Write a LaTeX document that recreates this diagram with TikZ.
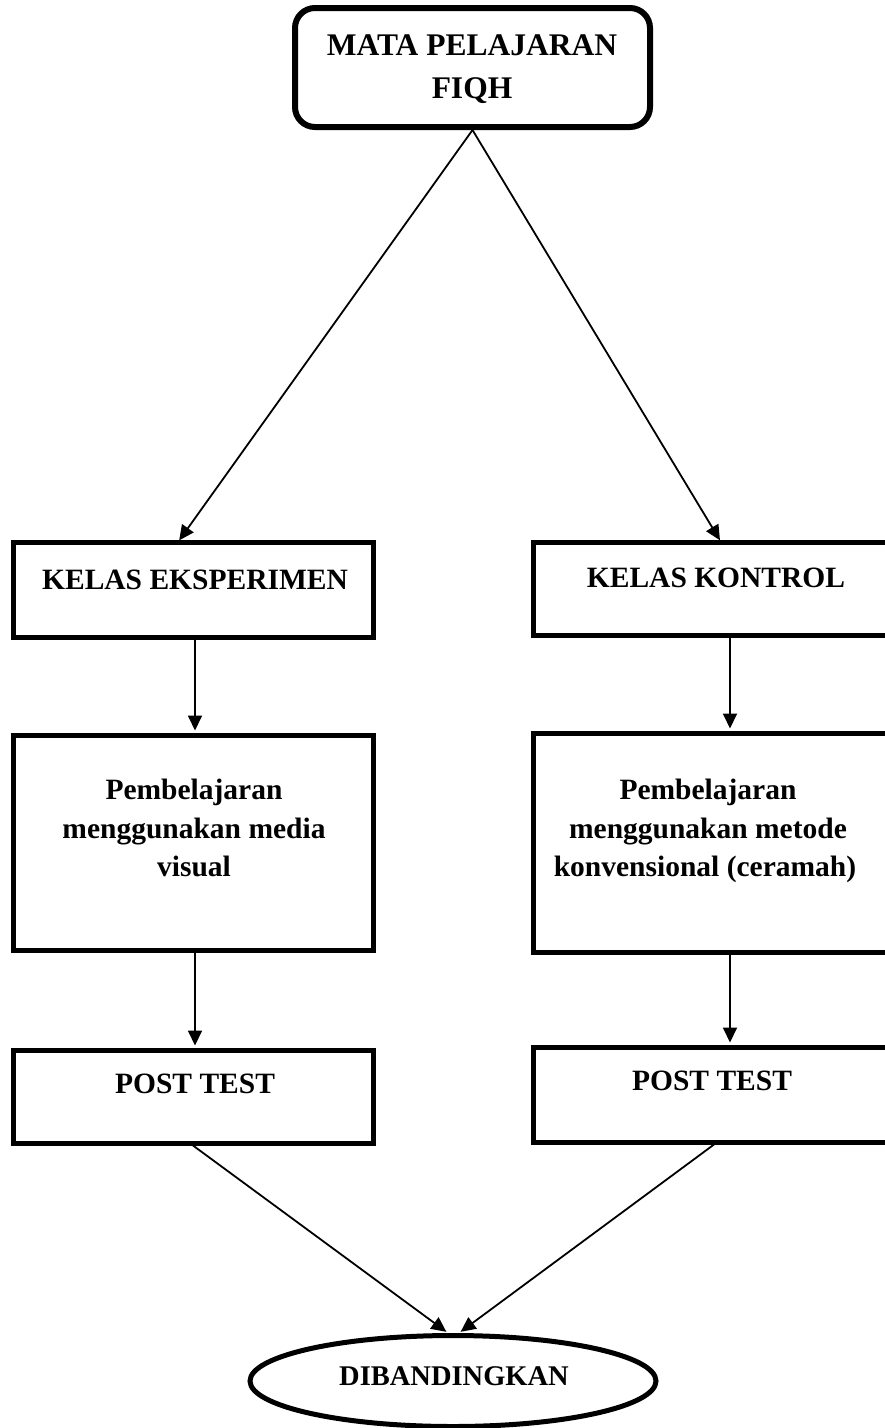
\documentclass[tikz,border=0pt]{standalone}
\usepackage{fontspec}
\setmainfont{Liberation Serif}
\usetikzlibrary{arrows.meta,shapes.geometric}
\begin{document}
\begin{tikzpicture}[x=1pt,y=-1pt,
  box/.style={draw,line width=5pt,rectangle,inner sep=0pt},
  txt/.style={anchor=base,inner sep=0pt,font=\fontsize{29.5}{38}\selectfont\bfseries},
  bigtxt/.style={anchor=base,inner sep=0pt,font=\fontsize{31.5}{43}\selectfont\bfseries},
  arr/.style={line width=1.8pt,-{Triangle[length=15pt,width=14pt]},shorten >=2pt}]
\useasboundingbox (0,0) rectangle (885,1428);
\clip (0,0) rectangle (885,1428);
% boxes
\node[box,rounded corners=20pt,line width=6pt,minimum width=355pt,minimum height=119pt] (top) at (472.5,67.5) {};
\node[box,minimum width=360pt,minimum height=95pt] (ke) at (193,589.5) {};
\node[box,minimum width=362pt,minimum height=93pt] (kk) at (714,588.5) {};
\node[box,minimum width=360pt,minimum height=215pt] (me) at (193,842.5) {};
\node[box,minimum width=362pt,minimum height=219pt] (mk) at (714,842.5) {};
\node[box,minimum width=360pt,minimum height=93pt] (pl) at (193,1096.5) {};
\node[box,minimum width=362pt,minimum height=95pt] (pr) at (714,1094.5) {};
\node[draw,ellipse,line width=5pt,inner sep=0pt,minimum width=406pt,minimum height=91pt] (cmp) at (453,1381) {};
% texts
\node[bigtxt] (t1a) at (472,55) {MATA PELAJARAN};
\node[bigtxt] (t1b) at (472,98) {FIQH};
\node[txt] (t2) at (195,589) {KELAS EKSPERIMEN};
\node[txt] (t3) at (716,587) {KELAS KONTROL};
\node[txt] (t4a) at (194,799) {Pembelajaran};
\node[txt] (t4b) at (194,838) {menggunakan media};
\node[txt] (t4c) at (194,876) {visual};
\node[txt] (t5a) at (708,799) {Pembelajaran};
\node[txt] (t5b) at (708,838) {menggunakan metode};
\node[txt] (t5c) at (705,876) {konvensional (ceramah)};
\node[txt] (t6) at (195,1093) {POST TEST};
\node[txt] (t7) at (712,1090) {POST TEST};
\node[txt,font=\fontsize{28.5}{34}\selectfont\bfseries] (t8) at (454,1385) {DIBANDINGKAN};
% connectors
\coordinate (tl) at (178,542);
\coordinate (tr) at (721,542);
\coordinate (xl) at (195,0);
\coordinate (xr) at (730,0);
\coordinate (bl) at (448,1333);
\coordinate (br) at (459,1333);
\draw[arr] (top.south) -- (tl);
\draw[arr] (top.south) -- (tr);
\draw[arr] (ke.south -| xl) -- (me.north -| xl);
\draw[arr] (kk.south -| xr) -- (mk.north -| xr);
\draw[arr] (me.south -| xl) -- (pl.north -| xl);
\draw[arr] (mk.south -| xr) -- (pr.north -| xr);
\draw[arr] (pl.south) -- (bl);
\draw[arr] (pr.south) -- (br);
\end{tikzpicture}
\end{document}
